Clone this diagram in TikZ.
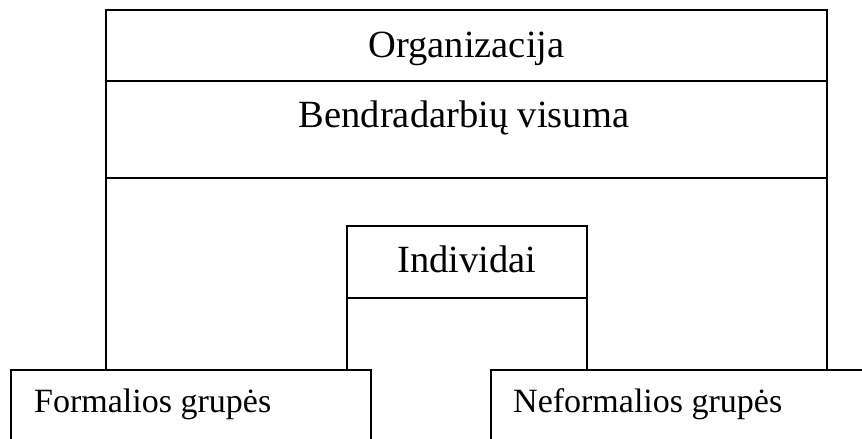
\documentclass[tikz,border=0pt]{standalone}
\usepackage{fontspec}
\setmainfont{Liberation Serif}
\tikzset{
  frame/.style={draw=black, line width=1.9pt},
  biglbl/.style={inner sep=0pt, anchor=base, font=\fontsize{38.5}{40}\selectfont},
  smalllbl/.style={inner sep=0pt, anchor=base west, font=\fontsize{34}{36}\selectfont}
}
\begin{document}
\begin{tikzpicture}[x=1pt, y=-1pt]
\useasboundingbox (0,0) rectangle (862,439);
% outer organisation frame
\coordinate (oBL) at (106,370);
\coordinate (oTL) at (106,10);
\coordinate (oTR) at (827,10);
\coordinate (oBR) at (827,370);
\draw[frame] (oBL) -- (oTL) -- (oTR) -- (oBR);
\draw[frame] (106,81) -- (827,81);
\draw[frame] (106,178) -- (827,178);
% individuals frame
\coordinate (iBL) at (347,370);
\coordinate (iTL) at (347,226);
\coordinate (iTR) at (587,226);
\coordinate (iBR) at (587,370);
\draw[frame] (iBL) -- (iTL) -- (iTR) -- (iBR);
\draw[frame] (347,298) -- (587,298);
% group boxes
\draw[frame] (11,440) -- (11,370) -- (371,370) -- (371,440);
\draw[frame] (491,440) -- (491,370) -- (863,370);
% labels
\node[biglbl] (org) at (466.5,57) {Organizacija};
\node[biglbl] (bend) at (464,127) {Bendradarbių visuma};
\node[biglbl] (ind) at (467,272) {Individai};
\node[smalllbl] (form) at (34,412) {Formalios grupės};
\node[smalllbl] (neform) at (513,412) {Neformalios grupės};
\end{tikzpicture}
\end{document}
